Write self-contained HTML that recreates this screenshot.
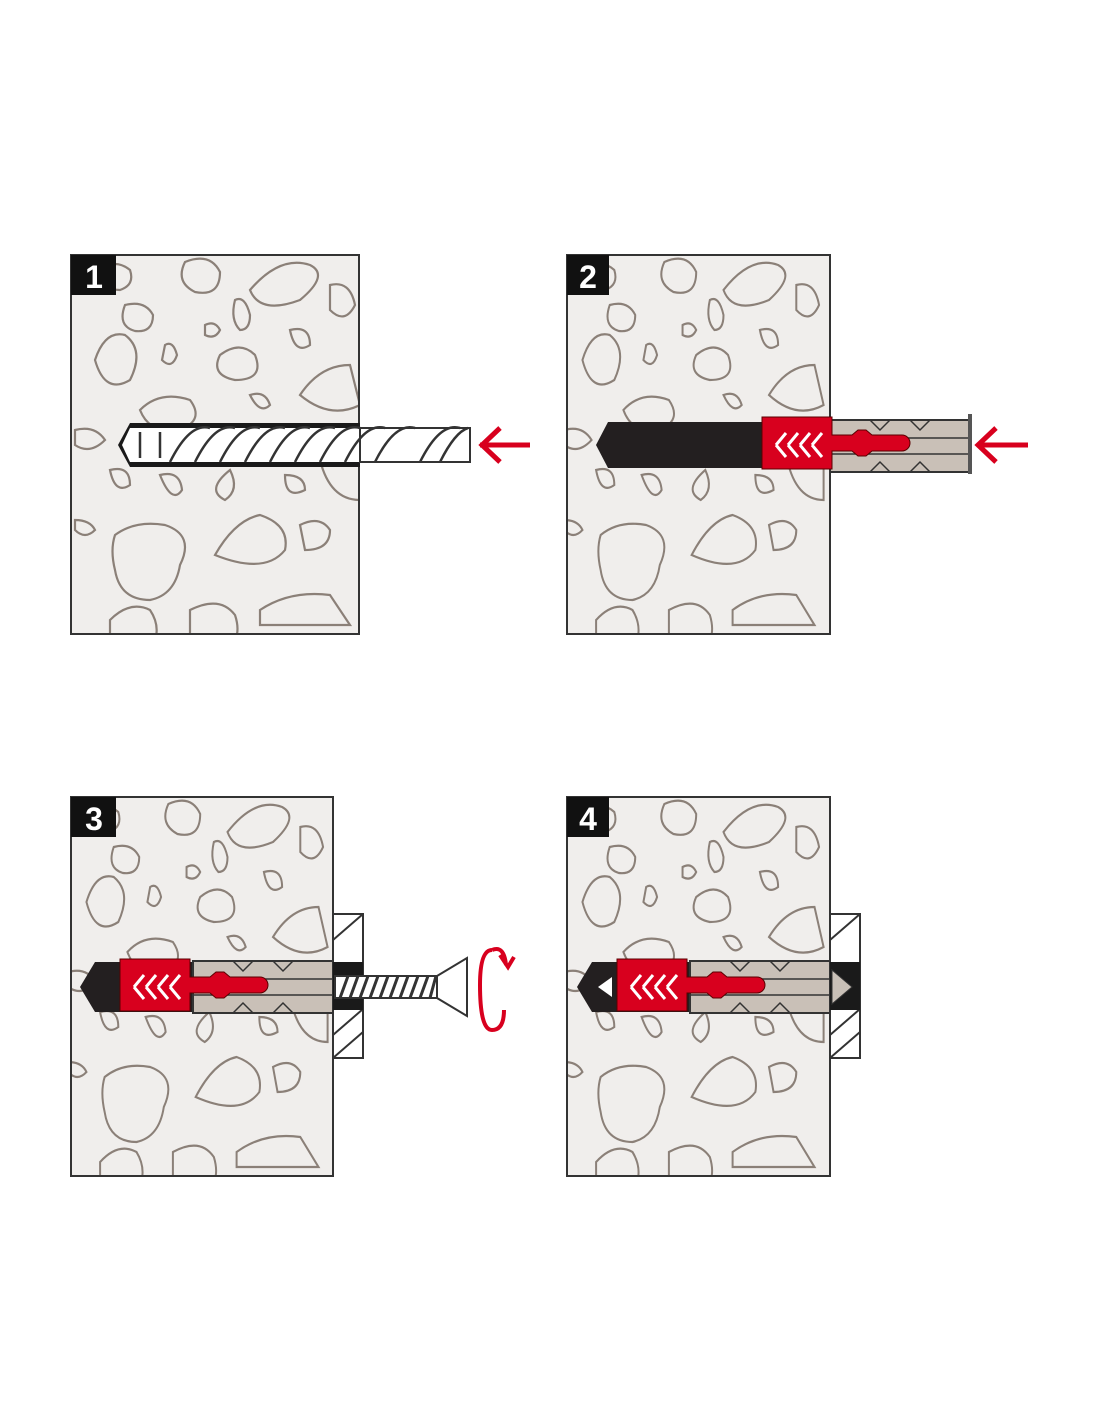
<!DOCTYPE html>
<html><head><meta charset="utf-8"><style>html,body{margin:0;padding:0;background:#fff}svg{display:block}</style></head><body>
<svg width="1100" height="1422" viewBox="0 0 1100 1422" xmlns="http://www.w3.org/2000/svg" font-family="Liberation Sans, sans-serif">
<defs>
<g id="stones" fill="none" stroke="#8b8078" stroke-width="2.2">
<path d="M100 270 q15 -12 30 0 q5 15 -10 20 q-20 0 -20 -20z"/>
<path d="M185 262 q25 -10 35 10 q0 25 -25 20 q-20 -10 -10 -30z"/>
<path d="M250 290 q30 -35 60 -25 q20 10 -10 35 q-40 15 -50 -10z"/>
<path d="M330 285 q20 -5 25 20 q-10 20 -25 5z"/>
<path d="M125 305 q20 -5 28 10 q0 18 -18 16 q-18 -5 -10 -26z"/>
<path d="M205 325 q10 -5 15 5 q-5 10 -15 5z"/>
<path d="M235 300 q10 -5 15 15 q0 15 -10 15 q-10 -10 -5 -30z"/>
<path d="M95 360 q10 -30 30 -25 q20 15 5 45 q-25 15 -35 -20z"/>
<path d="M165 345 q8 -5 12 10 q-5 15 -15 5z"/>
<path d="M220 355 q20 -15 35 0 q10 25 -20 25 q-25 -5 -15 -25z"/>
<path d="M290 330 q20 -5 20 15 q-15 10 -20 -15z"/>
<path d="M300 395 q20 -30 50 -30 l10 40 q-30 15 -60 -10z"/>
<path d="M140 410 q20 -20 50 -10 q15 20 -10 30 q-30 5 -40 -20z"/>
<path d="M250 395 q15 -5 20 10 q-10 10 -20 -10z"/>
<path d="M75 430 q20 -5 30 10 q-15 15 -30 5z"/>
<path d="M110 470 q20 -5 20 15 q-15 10 -20 -15z"/>
<path d="M160 475 q20 -5 22 15 q-10 15 -22 -15z"/>
<path d="M230 470 q10 20 -5 30 q-20 -10 5 -30z"/>
<path d="M285 475 q20 0 20 15 q-20 10 -20 -15z"/>
<path d="M75 520 q15 0 20 10 q-10 10 -20 0z"/>
<path d="M115 535 q20 -15 50 -10 q30 10 15 40 q-5 30 -30 35 q-30 0 -35 -30 q-5 -20 0 -35z"/>
<path d="M215 555 q20 -35 45 -40 q30 10 25 35 q-20 25 -70 5z"/>
<path d="M300 525 q20 -10 30 5 q0 20 -25 20z"/>
<path d="M110 620 q20 -20 40 -10 q10 15 5 30 h-45z"/>
<path d="M190 610 q30 -15 45 5 q5 15 0 25 h-45z"/>
<path d="M260 610 q30 -20 70 -15 l20 30 h-90z"/>
<path d="M320 460 q20 -20 40 0 v40 q-30 0 -40 -40z"/>
</g>
<clipPath id="c1"><rect x="71" y="255" width="288" height="379"/></clipPath>
<clipPath id="c2"><rect x="567" y="255" width="263" height="379"/></clipPath>
<clipPath id="c3"><rect x="71" y="797" width="262" height="379"/></clipPath>
<clipPath id="c4"><rect x="567" y="797" width="263" height="379"/></clipPath>
<g id="redpart">
<path d="M0 0 h70 v18 h20 l6 -5 h8 l6 5 h30 a8 8 0 0 1 0 16 h-30 l-6 5 h-8 l-6 -5 h-20 v18 h-70z" fill="#d8001e" stroke="#5a0000" stroke-width="1"/>
<path d="M14 28 l10 -12 M14 28 l10 12 M26 28 l10 -12 M26 28 l10 12 M38 28 l10 -12 M38 28 l10 12 M50 28 l10 -12 M50 28 l10 12" stroke="#fff" stroke-width="3" fill="none"/>
</g>
<g id="grey">
<path d="M0 2 h140 v52 h-140z" fill="#c9c0b7" stroke="#333" stroke-width="2"/>
<path d="M0 20 h140 M0 36 h140 M40 2 l10 10 l10 -10 M80 2 l10 10 l10 -10 M40 54 l10 -10 l10 10 M80 54 l10 -10 l10 10" stroke="#333" stroke-width="1.5" fill="none"/>
</g>
</defs>

<!-- Panel 1 -->
<rect x="71" y="255" width="288" height="379" fill="#f0eeec"/>
<g clip-path="url(#c1)"><use href="#stones"/></g>
<rect x="71" y="255" width="288" height="379" fill="none" stroke="#333" stroke-width="2"/>
<rect x="71" y="255" width="45" height="40" fill="#111"/>
<text x="94" y="288" fill="#fff" font-size="32" font-weight="bold" text-anchor="middle">1</text>
<path d="M130 423 h230 v44 h-230 l-12 -22z" fill="#1a1a1a"/>
<path d="M130 428 h230 v34 h-230 l-8 -17z" fill="#fff"/>
<rect x="360" y="428" width="110" height="34" fill="#fff" stroke="#333" stroke-width="2"/>
<g stroke="#333" stroke-width="2.5" fill="none">
<path d="M170 462 q20 -40 40 -34 M195 462 q20 -40 40 -34 M220 462 q20 -40 40 -34 M245 462 q20 -40 40 -34 M270 462 q20 -40 40 -34 M295 462 q20 -40 40 -34 M320 462 q20 -40 40 -34 M345 462 q20 -40 40 -34 M375 462 q20 -40 40 -34 M420 462 q20 -40 40 -34 M440 462 q15 -30 28 -34"/>
<path d="M160 432 v26 M140 432 v26"/>
</g>
<path d="M530 445 h-50 M500 428 l-18 17 l18 17" stroke="#d8001e" stroke-width="5" fill="none"/>

<!-- Panel 2 -->
<rect x="567" y="255" width="263" height="379" fill="#f0eeec"/>
<g clip-path="url(#c2)"><g transform="translate(496,0) scale(0.91,1)"><use href="#stones"/></g></g>
<rect x="567" y="255" width="263" height="379" fill="none" stroke="#333" stroke-width="2"/>
<rect x="567" y="255" width="42" height="40" fill="#111"/>
<text x="588" y="288" fill="#fff" font-size="32" font-weight="bold" text-anchor="middle">2</text>
<path d="M608 422 h155 v46 h-155 l-12 -23z" fill="#231f20"/>
<g transform="translate(830,418)"><use href="#grey"/></g>
<rect x="968" y="414" width="4" height="60" fill="#555"/>
<g transform="translate(762,417)"><use href="#redpart"/></g>
<path d="M1028 445 h-50 M996 428 l-18 17 l18 17" stroke="#d8001e" stroke-width="5" fill="none"/>

<!-- Panel 3 -->
<rect x="71" y="797" width="262" height="379" fill="#f0eeec"/>
<g clip-path="url(#c3)"><g transform="translate(0,542) scale(0.91,1)"><use href="#stones"/></g></g>
<rect x="71" y="797" width="262" height="379" fill="none" stroke="#333" stroke-width="2"/>
<rect x="71" y="797" width="45" height="40" fill="#111"/>
<text x="94" y="830" fill="#fff" font-size="32" font-weight="bold" text-anchor="middle">3</text>
<path d="M95 962 h100 v50 h-100 l-15 -25z" fill="#231f20"/>
<g transform="translate(193,959)"><use href="#grey"/></g>
<g transform="translate(120,959)"><use href="#redpart"/></g>
<rect x="333" y="914" width="30" height="144" fill="#fff" stroke="#333" stroke-width="2"/>
<path d="M333 940 l30 -26 M333 1058 l30 -26 M333 1035 l30 -26" stroke="#333" stroke-width="2"/>
<rect x="333" y="962" width="30" height="48" fill="#1a1a1a"/>
<rect x="335" y="976" width="102" height="22" fill="#fff" stroke="#333" stroke-width="2"/>
<path d="M340 998 l8 -22 M350 998 l8 -22 M360 998 l8 -22 M370 998 l8 -22 M380 998 l8 -22 M390 998 l8 -22 M400 998 l8 -22 M410 998 l8 -22 M420 998 l8 -22 M430 998 l6 -22" stroke="#333" stroke-width="3"/>
<path d="M437 976 l30 -18 v58 l-30 -18z" fill="#fff" stroke="#333" stroke-width="2"/>
<path d="M492 950 q-12 0 -12 35 q0 45 12 45 q12 0 12 -20 M492 950 q12 -5 14 15 M500 955 l8 12 l6 -10" stroke="#d8001e" stroke-width="4" fill="none"/>

<!-- Panel 4 -->
<rect x="567" y="797" width="263" height="379" fill="#f0eeec"/>
<g clip-path="url(#c4)"><g transform="translate(496,542) scale(0.91,1)"><use href="#stones"/></g></g>
<rect x="567" y="797" width="263" height="379" fill="none" stroke="#333" stroke-width="2"/>
<rect x="567" y="797" width="42" height="40" fill="#111"/>
<text x="588" y="830" fill="#fff" font-size="32" font-weight="bold" text-anchor="middle">4</text>
<path d="M592 962 h100 v50 h-100 l-15 -25z" fill="#231f20"/>
<path d="M598 987 l14 -10 v20z" fill="#fff"/>
<g transform="translate(690,959)"><use href="#grey"/></g>
<g transform="translate(617,959)"><use href="#redpart"/></g>
<rect x="830" y="914" width="30" height="144" fill="#fff" stroke="#333" stroke-width="2"/>
<path d="M830 940 l30 -26 M830 1058 l30 -26 M830 1035 l30 -26" stroke="#333" stroke-width="2"/>
<rect x="830" y="962" width="30" height="48" fill="#1a1a1a"/>
<path d="M832 970 l20 17 l-20 17z" fill="#c9c0b7" stroke="#333"/>
</svg>
</body></html>
